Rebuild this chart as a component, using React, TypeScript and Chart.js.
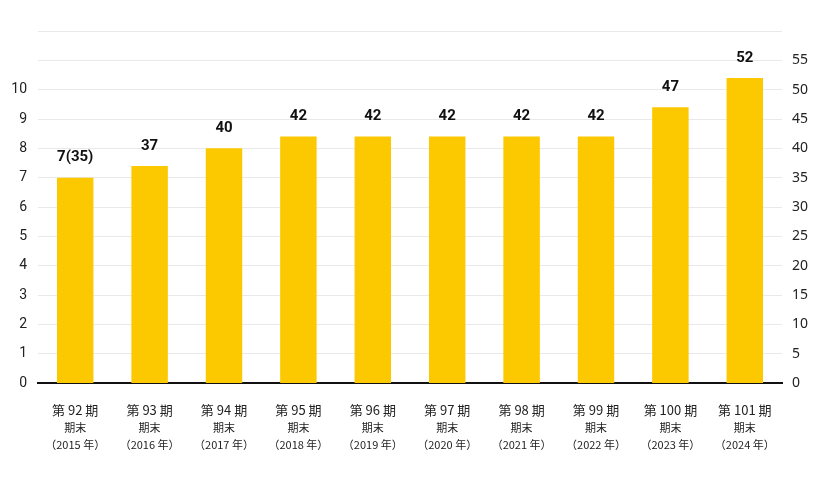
import React, { useEffect, useRef } from "react";
import { Chart, registerables } from "chart.js";

Chart.register(...registerables);

const periods = ["第 92 期", "第 93 期", "第 94 期", "第 95 期", "第 96 期", "第 97 期", "第 98 期", "第 99 期", "第 100 期", "第 101 期"];
const subLabels = ["期末", "期末", "期末", "期末", "期末", "期末", "期末", "期末", "期末", "期末"];
const years = ["（2015 年）", "（2016 年）", "（2017 年）", "（2018 年）", "（2019 年）", "（2020 年）", "（2021 年）", "（2022 年）", "（2023 年）", "（2024 年）"];
const values = [35, 37, 40, 42, 42, 42, 42, 42, 47, 52];
const valueLabels = ["7(35)", "37", "40", "42", "42", "42", "42", "42", "47", "52"];
const leftMax = 12;
const leftLabelMax = 10;
const rightMax = 60;
const rightLabelMax = 55;

const labelPlugin = {
  id: "customLabels",
  afterDatasetsDraw(chart: any) {
    const ctx = chart.ctx;
    const meta = chart.getDatasetMeta(0);
    const xScale = chart.scales.x;
    ctx.save();
    ctx.fillStyle = "#111";
    ctx.textAlign = "center";
    ctx.textBaseline = "middle";
    meta.data.forEach((bar: any, i: number) => {
      ctx.font = "bold 15px Roboto, 'Noto Sans', sans-serif";
      ctx.fillText(valueLabels[i], bar.x, bar.y - 20);
    });
    periods.forEach((p, i) => {
      const x = xScale.getPixelForValue(i);
      ctx.fillStyle = "#222";
      ctx.font = "13px 'Noto Sans CJK JP', sans-serif";
      ctx.fillText(p, x, 410);
      ctx.font = "11px 'Noto Sans CJK JP', sans-serif";
      ctx.fillText(subLabels[i], x, 428);
      ctx.fillText(years[i], x, 445);
    });
    ctx.restore();
  },
};

export default function App() {
  const ref = useRef<HTMLCanvasElement>(null);
  useEffect(() => {
    document.body.style.margin = "0";
    const chart = new Chart(ref.current!, {
      type: "bar",
      data: {
        labels: periods,
        datasets: [
          {
            data: values,
            backgroundColor: "#FCC800",
            yAxisID: "y1",
            barPercentage: 0.49,
            categoryPercentage: 1,
          },
        ],
      },
      options: {
        responsive: false,
        animation: false,
        layout: { padding: { top: 31, left: 0, right: 0, bottom: 0 } },
        plugins: { legend: { display: false }, tooltip: { enabled: false } },
        scales: {
          x: {
            grid: { display: false },
            border: { display: true, color: "#111", width: 2 },
            ticks: { display: false },
            afterFit: (s: any) => {
              s.height = 117;
            },
          },
          y: {
            position: "left",
            min: 0,
            max: leftMax,
            border: { display: false },
            grid: { color: "#e9e9e9", drawTicks: false, lineWidth: 1 },
            ticks: {
              stepSize: 1,
              padding: 11,
              color: "#222",
              font: { size: 14, family: "Roboto, sans-serif" },
              callback: (v: any) => (v <= leftLabelMax ? String(v) : ""),
            },
            afterFit: (s: any) => {
              s.width = 38;
            },
          },
          y1: {
            position: "right",
            min: 0,
            max: rightMax,
            border: { display: false },
            grid: { display: false, drawTicks: false },
            ticks: {
              stepSize: 5,
              padding: 10,
              color: "#222",
              font: { size: 14, family: "'Noto Sans', sans-serif" },
              callback: (v: any) => (v <= rightLabelMax ? String(v) : ""),
            },
            afterFit: (s: any) => {
              s.width = 38;
            },
          },
        },
      },
      plugins: [labelPlugin],
    });
    return () => chart.destroy();
  }, []);
  return (
    <div style={{ width: 820, height: 500 }}>
      <canvas ref={ref} width={820} height={500} />
    </div>
  );
}
